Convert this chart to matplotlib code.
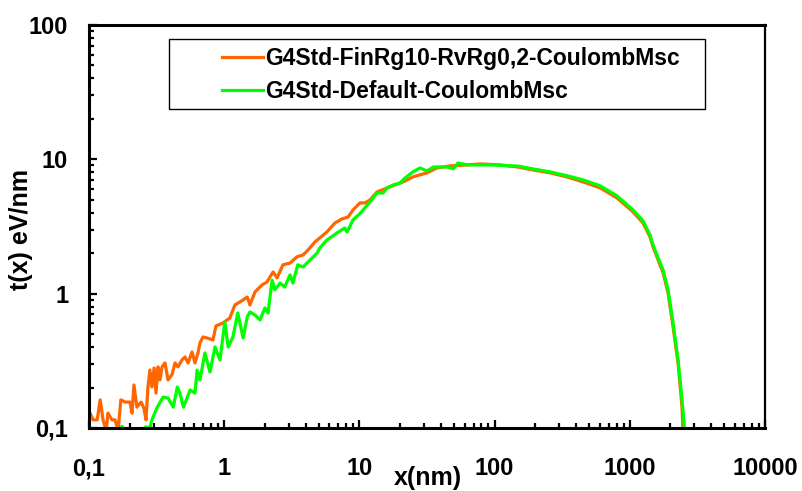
import matplotlib
matplotlib.use('Agg')
import matplotlib.pyplot as plt
from matplotlib.patches import Rectangle

plt.rcParams['font.family'] = ['Liberation Sans', 'DejaVu Sans']
plt.rcParams['font.weight'] = 'bold'

# G4Std-FinRg10-RvRg0,2-CoulombMsc
x_fin = [0.1, 0.102, 0.107, 0.115, 0.121, 0.127, 0.134, 0.138, 0.148, 0.156,
         0.164, 0.172, 0.185, 0.201, 0.208, 0.215, 0.226, 0.243, 0.255, 0.264,
         0.273, 0.282, 0.292, 0.303, 0.313, 0.324, 0.335, 0.347, 0.365, 0.384,
         0.411, 0.433, 0.455, 0.487, 0.513, 0.540, 0.578, 0.608, 0.640, 0.662,
         0.697, 0.746, 0.826, 0.869, 0.979, 1.10, 1.20, 1.38, 1.48, 1.55,
         1.69, 1.90, 2.07, 2.30, 2.46, 2.72, 3.07, 3.45, 3.83, 4.16,
         4.7, 5.75, 6.60, 7.43, 8.24, 8.97, 10.1, 11.0, 12.0, 13.5,
         16.8, 21.0, 24.9, 31.6, 37.5, 46.8, 62.5, 78.0, 110, 147,
         192, 257, 343, 451, 603, 804, 1057, 1253, 1412, 1486,
         1762, 1919, 2090, 2275, 2434, 2477]
y_fin = [0.119, 0.129, 0.115, 0.115, 0.162, 0.115, 0.095, 0.129, 0.115, 0.115,
         0.095, 0.162, 0.156, 0.156, 0.129, 0.209, 0.143, 0.156, 0.14, 0.115,
         0.202, 0.270, 0.202, 0.280, 0.182, 0.285, 0.228, 0.285, 0.305, 0.228,
         0.25, 0.305, 0.285, 0.321, 0.338, 0.305, 0.368, 0.305, 0.362, 0.430,
         0.476, 0.468, 0.452, 0.575, 0.605, 0.659, 0.824, 0.898, 0.944, 0.824,
         1.03, 1.16, 1.22, 1.45, 1.31, 1.64, 1.69, 1.88, 1.94, 2.11,
         2.43, 2.88, 3.36, 3.60, 3.72, 4.20, 4.74, 4.74, 4.99, 5.72,
         6.23, 6.79, 7.40, 7.93, 8.63, 8.93, 9.09, 9.24, 9.09, 8.78,
         8.34, 7.93, 7.40, 6.79, 6.13, 5.16, 4.06, 3.36, 2.64, 2.23,
         1.43, 1.01, 0.565, 0.305, 0.143, 0.09]

# G4Std-Default-CoulombMsc
x_def = [0.169, 0.175, 0.185, 0.24, 0.264, 0.282, 0.292, 0.32, 0.353, 0.384,
         0.42, 0.45, 0.47, 0.50, 0.56, 0.608, 0.63, 0.662, 0.72, 0.785,
         0.855, 0.931, 1.01, 1.07, 1.16, 1.26, 1.38, 1.48, 1.55, 1.69,
         1.84, 2.0, 2.11, 2.26, 2.37, 2.59, 2.8, 3.07, 3.22, 3.5,
         3.83, 4.31, 4.86, 5.1, 5.75, 6.05, 7.0, 7.8, 8.1, 8.97,
         10.1, 11.4, 12.0, 13.5, 15.0, 16.0, 17.8, 20.0, 21.8, 24.9,
         28.0, 31.6, 35.3, 44.5, 49.5, 53.5, 62.5, 97, 130, 147,
         192, 257, 343, 451, 603, 804, 1057, 1253, 1412, 1486,
         1762, 1919, 2090, 2275, 2434, 2560]
y_def = [0.097, 0.103, 0.097, 0.095, 0.102, 0.100, 0.115, 0.143, 0.170, 0.167,
         0.143, 0.202, 0.182, 0.143, 0.192, 0.182, 0.270, 0.228, 0.362, 0.261,
         0.401, 0.321, 0.615, 0.401, 0.476, 0.718, 0.468, 0.671, 0.731, 0.694,
         0.637, 0.783, 0.718, 1.26, 1.07, 1.20, 1.12, 1.38, 1.20, 1.64,
         1.58, 1.78, 2.0, 2.19, 2.51, 2.60, 2.88, 3.08, 2.88, 3.54,
         3.95, 4.55, 4.82, 5.62, 5.62, 6.13, 6.45, 6.67, 7.28, 8.06,
         8.63, 8.2, 8.78, 8.78, 8.49, 9.40, 9.09, 9.09, 8.93, 8.93,
         8.49, 8.06, 7.55, 7.03, 6.35, 5.35, 4.20, 3.48, 2.73, 2.30,
         1.50, 1.07, 0.605, 0.321, 0.162, 0.09]

labels = ['G4Std-FinRg10-RvRg0,2-CoulombMsc', 'G4Std-Default-CoulombMsc']
colors = ['#FF6600', '#00FF00']

xticks = [0.1, 1, 10, 100, 1000, 10000]
xtick_labels = ['0,1', '1', '10', '100', '1000', '10000']
yticks = [0.1, 1, 10, 100]
ytick_labels = ['0,1', '1', '10', '100']

fig = plt.figure(figsize=(8.03, 4.91), dpi=100)
ax = fig.add_axes([89 / 803, 1 - 428 / 491, 676 / 803, 403 / 491])

ax.plot(x_fin, y_fin, color=colors[0], lw=2.3, label=labels[0])
ax.plot(x_def, y_def, color=colors[1], lw=2.3, label=labels[1])

ax.set_xscale('log')
ax.set_yscale('log')
ax.set_xlim(0.1, 10000)
ax.set_ylim(0.1, 100)
ax.set_xticks(xticks, xtick_labels)
ax.set_yticks(yticks, ytick_labels)

ax.tick_params(which='both', direction='in', top=False, right=False, width=1.6)
ax.tick_params(which='major', length=6)
ax.tick_params(which='minor', length=3.5)
ax.tick_params(axis='x', which='major', pad=21, labelsize=17)
ax.tick_params(axis='y', which='major', pad=15, labelsize=17)
for lab in ax.get_xticklabels() + ax.get_yticklabels():
    lab.set_fontweight('bold')

for side in ['left', 'bottom', 'top']:
    ax.spines[side].set_linewidth(2.2)
ax.spines['right'].set_linewidth(1.6)

# legend box
ax.add_patch(Rectangle((0.118, 0.792), 0.793, 0.173, transform=ax.transAxes,
                       fill=False, lw=1.0, ec='black', zorder=5))
leg = ax.legend(loc='upper left', bbox_to_anchor=((222 - 89) / 676, (428 - 47) / 403),
                frameon=False, borderpad=0, borderaxespad=0, handlelength=1.8,
                handletextpad=0.1, labelspacing=0.45,
                prop={'size': 16.5, 'weight': 'bold'})

fig.text(21 / 803, 1 - 230 / 491, 't(x) eV/nm', rotation=90, ha='center', va='center',
         fontsize=18, fontweight='bold')
fig.text(428 / 803, 1 - 478 / 491, 'x(nm)', ha='center', va='center',
         fontsize=18, fontweight='bold')

fig.savefig('out.png', dpi=100)
